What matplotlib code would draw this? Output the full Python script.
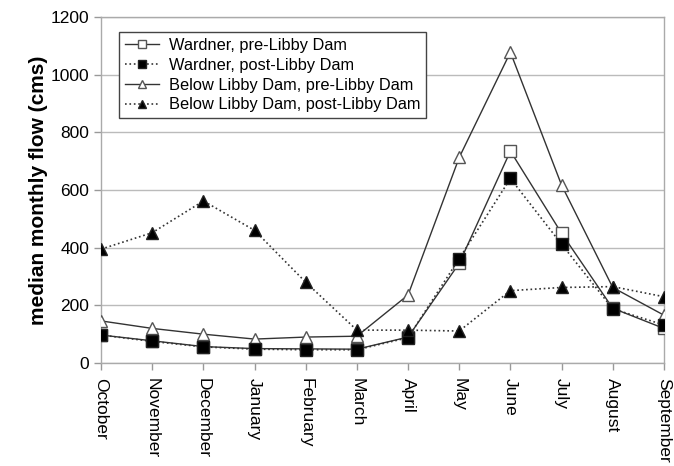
import matplotlib
matplotlib.use("Agg")
import matplotlib.pyplot as plt

plt.rcParams['font.family'] = ['Liberation Sans', 'DejaVu Sans']

months = ["October", "November", "December", "January", "February", "March",
          "April", "May", "June", "July", "August", "September"]
wardner_pre = [97, 77, 57, 50, 49, 48, 90, 346, 735, 450, 190, 120]
wardner_post = [97, 75, 56, 48, 46, 46, 88, 362, 640, 412, 188, 132]
below_pre = [146, 120, 100, 83, 90, 93, 236, 713, 1078, 617, 262, 166]
below_post = [395, 452, 562, 460, 280, 114, 114, 111, 251, 262, 265, 230]

yticks = [0, 200, 400, 600, 800, 1000, 1200]

fig = plt.figure(figsize=(6.74, 4.66), dpi=100)
ax = fig.add_axes([0.150, 0.221, 0.835, 0.7425])
x = list(range(len(months)))

ax.plot(x, wardner_pre, '-', color='#333333', lw=1.0, marker='s', ms=8,
        mfc='white', mec='#555555', mew=1.0, label='Wardner, pre-Libby Dam', zorder=3)
ax.plot(x, wardner_post, ':', color='#333333', lw=1.2, marker='s', ms=8,
        mfc='black', mec='#222222', label='Wardner, post-Libby Dam', zorder=4)
ax.plot(x, below_pre, '-', color='#333333', lw=1.0, marker='^', ms=8,
        mfc='white', mec='#555555', mew=1.0, label='Below Libby Dam, pre-Libby Dam', zorder=3)
ax.plot(x, below_post, ':', color='#333333', lw=1.2, marker='^', ms=8,
        mfc='black', mec='#222222', label='Below Libby Dam, post-Libby Dam', zorder=4)

ax.set_xlim(0, 11)
ax.set_ylim(0, 1200)
ax.set_yticks(yticks)
ax.set_yticklabels([str(v) for v in yticks], fontsize=12.5)
ax.set_xticks(x)
ax.set_xticklabels(months, rotation=270, fontsize=12.5, va='top', ha='center')
ax.yaxis.grid(True, color='#bbbbbb', lw=1.0)
ax.set_axisbelow(True)
for s in ax.spines.values():
    s.set_color('#aaaaaa')
    s.set_linewidth(1.0)
ax.tick_params(axis='both', colors='#999999', labelcolor='black', length=5, width=1.0)
ax.tick_params(axis='x', pad=6)
ax.set_ylabel('median monthly flow (cms)', fontsize=15, fontweight='bold', labelpad=2)

leg = ax.legend(loc='upper left', bbox_to_anchor=(119 / 674, 1 - 32 / 466),
                bbox_transform=fig.transFigure, fontsize=11.8,
                frameon=True, fancybox=False, edgecolor='#444444', framealpha=1,
                borderpad=0.35, labelspacing=0.3, handlelength=2.1, handletextpad=0.6,
                borderaxespad=0, markerscale=0.65)
leg.get_frame().set_linewidth(1.0)

fig.savefig('out.png', dpi=100)
